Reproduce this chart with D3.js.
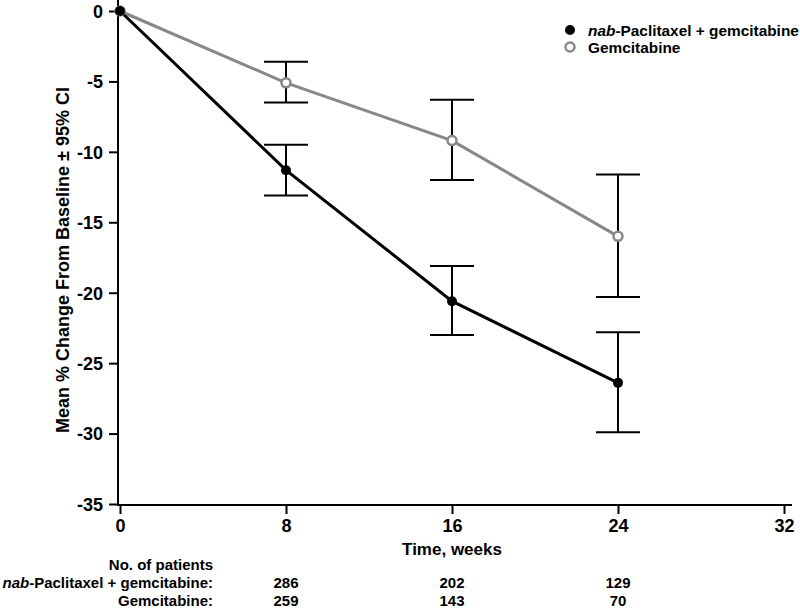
<!DOCTYPE html>
<html><head><meta charset="utf-8">
<script src="https://cdn.jsdelivr.net/npm/d3@7"></script>
<style>body{margin:0;background:#fff}svg{display:block}text{font-family:Arial,"Liberation Sans",sans-serif;font-weight:bold;fill:#000}</style>
</head><body><svg id="c" width="800" height="608"></svg>
<script>
const weeks = [0, 8, 16, 24];
const nabMean = [0, -11.3, -20.6, -26.4];
const nabLow = [null, -13.1, -23.0, -29.9];
const nabHigh = [null, -9.5, -18.1, -22.8];
const gemMean = [0, -5.1, -9.2, -16.0];
const gemLow = [null, -6.5, -12.0, -20.3];
const gemHigh = [null, -3.6, -6.3, -11.6];
const xTicks = [0, 8, 16, 24, 32];
const yTicks = [0, -5, -10, -15, -20, -25, -30, -35];
const nabN = [286, 202, 129];
const gemN = [259, 143, 70];
const nWeeks = [8, 16, 24];

const svg = d3.select("#c");
const x = d3.scaleLinear().domain([0, 32]).range([120, 784]);
const y = d3.scaleLinear().domain([0, -35]).range([11, 504]);

// axes
const yAx = svg.append("g").attr("transform", "translate(118,0)")
  .call(d3.axisLeft(y).tickValues(yTicks).tickSize(9).tickPadding(6).tickFormat(d => String(d)));
yAx.select(".domain").attr("d", "M0,0V505").attr("stroke-width", 2);
yAx.selectAll(".tick line").attr("stroke-width", 2);
yAx.selectAll(".tick text").attr("font-size", 18).attr("font-family", "Arial").attr("font-weight", "bold").attr("fill", "#000").attr("dy", "0.35em");

const xAx = svg.append("g").attr("transform", "translate(0,505)")
  .call(d3.axisBottom(x).tickValues(xTicks).tickSize(9).tickPadding(5).tickFormat(d => String(d)));
xAx.select(".domain").attr("d", "M117,0H792").attr("stroke-width", 2);
xAx.selectAll(".tick line").attr("stroke-width", 2);
xAx.selectAll(".tick text").attr("font-size", 18).attr("font-family", "Arial").attr("font-weight", "bold").attr("fill", "#000");

svg.append("text").attr("x", 452).attr("y", 555).attr("text-anchor", "middle").attr("font-size", 17).text("Time, weeks");
svg.append("text").attr("transform", "translate(69,260) rotate(-90)").attr("text-anchor", "middle").attr("font-size", 18)
  .text("Mean % Change From Baseline ± 95% CI");

// lines
const line = d3.line().x((d, i) => x(weeks[i])).y(d => y(d));
svg.append("path").datum(gemMean).attr("d", line).attr("fill", "none").attr("stroke", "#888").attr("stroke-width", 3);
svg.append("path").datum(nabMean).attr("d", line).attr("fill", "none").attr("stroke", "#000").attr("stroke-width", 3);

// error bars
function bars(lo, hi) {
  weeks.forEach((w, i) => {
    if (lo[i] == null) return;
    const g = svg.append("g").attr("stroke", "#000").attr("stroke-width", 2);
    g.append("line").attr("x1", x(w)).attr("x2", x(w)).attr("y1", y(lo[i])).attr("y2", y(hi[i]));
    [lo[i], hi[i]].forEach(v => g.append("line").attr("x1", x(w) - 22).attr("x2", x(w) + 22).attr("y1", y(v)).attr("y2", y(v)));
  });
}
bars(gemLow, gemHigh);
bars(nabLow, nabHigh);

// markers
svg.selectAll(".gm").data(gemMean).join("circle").attr("cx", (d, i) => x(weeks[i])).attr("cy", d => y(d))
  .attr("r", 4.5).attr("fill", "#fff").attr("stroke", "#888").attr("stroke-width", 2.5);
svg.selectAll(".nm").data(nabMean).join("circle").attr("cx", (d, i) => x(weeks[i])).attr("cy", d => y(d))
  .attr("r", 5).attr("fill", "#000");

// legend
svg.append("circle").attr("cx", 570).attr("cy", 30).attr("r", 5).attr("fill", "#000");
svg.append("circle").attr("cx", 570).attr("cy", 47).attr("r", 4.5).attr("fill", "#fff").attr("stroke", "#888").attr("stroke-width", 2.5);
const l1 = svg.append("text").attr("x", 588).attr("y", 35.5).attr("font-size", 15.4);
l1.append("tspan").attr("font-style", "italic").text("nab");
l1.append("tspan").text("-Paclitaxel + gemcitabine");
svg.append("text").attr("x", 588).attr("y", 52.5).attr("font-size", 15.4).text("Gemcitabine");

// patients table
svg.append("text").attr("x", 213).attr("y", 570).attr("text-anchor", "end").attr("font-size", 15).text("No. of patients");
const r1 = svg.append("text").attr("x", 213).attr("y", 588).attr("text-anchor", "end").attr("font-size", 15);
r1.append("tspan").attr("font-style", "italic").text("nab");
r1.append("tspan").text("-Paclitaxel + gemcitabine:");
svg.append("text").attr("x", 213).attr("y", 606).attr("text-anchor", "end").attr("font-size", 15).text("Gemcitabine:");
svg.selectAll(".n1").data(nabN).join("text").attr("x", (d, i) => x(nWeeks[i])).attr("y", 588).attr("text-anchor", "middle").attr("font-size", 15).text(d => d);
svg.selectAll(".n2").data(gemN).join("text").attr("x", (d, i) => x(nWeeks[i])).attr("y", 606).attr("text-anchor", "middle").attr("font-size", 15).text(d => d);
</script></body></html>
